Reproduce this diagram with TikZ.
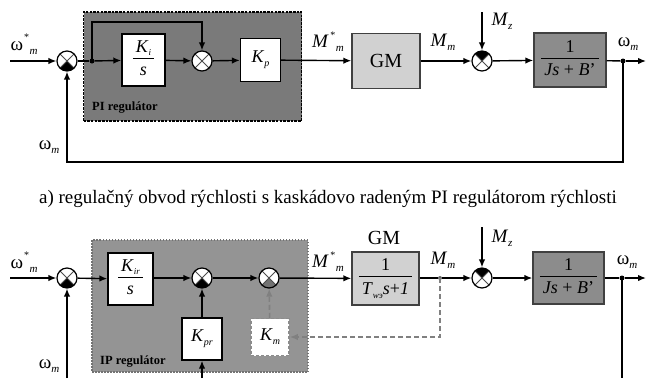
\documentclass[tikz,border=0pt]{standalone}
\usepackage{fontspec}
\setmainfont{Liberation Serif}
\usetikzlibrary{arrows.meta}
\setlength{\arrayrulewidth}{0.9pt}
\newcommand{\frx}[2]{\begin{tabular}{@{\hspace{3pt}}c@{\hspace{3pt}}}#1\\[0pt]\hline\rule{0pt}{17pt}#2\end{tabular}}
\newcommand{\omst}{ω\kern1pt\raisebox{10pt}{\fontsize{10}{10}\selectfont *}\kern0.5pt\raisebox{-4pt}{\fontsize{11}{11}\selectfont\itshape m}}
\newcommand{\omm}{ω\raisebox{-4pt}{\fontsize{11}{11}\selectfont\itshape m}}
\newcommand{\Mst}{\textit{M}\kern1.5pt\raisebox{9pt}{\fontsize{10}{10}\selectfont *}\kern0.5pt\raisebox{-4pt}{\fontsize{11}{11}\selectfont\itshape m}}
\newcommand{\Mm}{\textit{M}\raisebox{-4pt}{\fontsize{11}{11}\selectfont\itshape m}}
\newcommand{\Mz}{\textit{M}\raisebox{-4pt}{\fontsize{11}{11}\selectfont\itshape z}}
\tikzset{
 x=1pt,y=1pt,
 lab/.style={font=\fontsize{19}{19}\selectfont, inner sep=0pt},
 blk/.style={draw, line width=1.4pt, fill=white, inner sep=0pt, font=\fontsize{18}{19}\selectfont},
 ln/.style={line width=1.4pt},
 arr/.style={ln, -{Latex[length=8pt,width=6.5pt]}},
 darr/.style={line width=1.6pt, gray, dash pattern=on 5pt off 3pt, -{Latex[length=8pt,width=6.5pt]}},
 dot/.style={circle, fill, inner sep=0pt, minimum size=5pt},
 pibox/.style={draw=black, fill=black!52, line width=1.8pt, dash pattern=on 2.5pt off 1.2pt, inner sep=0pt},
 ipbox/.style={draw=black!55, fill=black!42, line width=1.4pt, dash pattern=on 1.5pt off 1.5pt, inner sep=0pt},
 sumj/.style 2 args={circle, draw, fill=white, minimum size=20pt, inner sep=0pt, line width=1.2pt,
   path picture={
     \path[fill=#1] (path picture bounding box.center) -- (path picture bounding box.north west) -- (path picture bounding box.north east) -- cycle;
     \path[fill=#2] (path picture bounding box.center) -- (path picture bounding box.south west) -- (path picture bounding box.south east) -- cycle;
     \draw[line width=0.8pt, black!70] (path picture bounding box.north west) -- (path picture bounding box.south east)
       (path picture bounding box.north east) -- (path picture bounding box.south west);
   }},
}
\begin{document}
\begin{tikzpicture}
\useasboundingbox (0,0) rectangle (647,-378);
% ================= top diagram =================
\node[pibox, minimum width=218pt, minimum height=109pt] (pi) at (192.5,-66.5) {};
\node[font=\bfseries\fontsize{12.5}{12.5}\selectfont, anchor=west, inner sep=0pt] (pilab) at (92,-108) {PI regulátor};
\coordinate (in1) at (10,-61);
\node[sumj={white}{black}] (s1) at (67,-61) {};
\node[dot] (j1) at (92,-61) {};
\node[blk, minimum width=43pt, minimum height=52pt] (ki) at (143.5,-60) {\frx{\textit{K}\raisebox{-3pt}{\fontsize{9}{9}\selectfont\itshape i}}{\textit{s}}};
\node[sumj={white}{white}] (s2) at (202,-61) {};
\node[blk, minimum width=40pt, minimum height=43pt] (kp) at (260.5,-60) {\textit{K}\raisebox{-4pt}{\fontsize{10}{10}\selectfont\itshape p}};
\node[lab] (lms1) at (328,-42) {\Mst};
\node[blk, draw=black!75, fill=black!18, minimum width=68pt, minimum height=55pt, font=\fontsize{20}{20}\selectfont] (gm1) at (386,-61) {GM};
\node[lab] (lmm1) at (443,-42) {\Mm};
\node[sumj={black}{white}] (s3) at (482,-61) {};
\coordinate (mz1) at (482,-12);
\node[lab] (lmz1) at (502,-21) {\Mz};
\node[blk, draw=black!75, fill=black!45, minimum width=72pt, minimum height=54pt] (pl1) at (570,-60) {\frx{1}{\textit{Js} + \textit{B}’}};
\node[dot] (o1) at (623,-61) {};
\coordinate (end1) at (646,-61);
\node[lab] (lwo1) at (628,-44) {\omm};
\node[lab] (lwi1) at (24,-44) {\omst};
\node[lab] (lwf1) at (49,-147) {\omm};
\draw[arr] (in1) -- (s1);
\draw[ln] (s1) -- (j1);
\draw[arr] (j1) -- (ki);
\draw[arr] (j1.center) -- (92,-22) -| (s2);
\draw[arr] (ki) -- (s2);
\draw[arr] (s2) -- (kp);
\draw[arr] (kp) -- (gm1);
\draw[arr] (gm1) -- (s3);
\draw[arr] (mz1) -- (s3);
\draw[arr] (s3) -- (pl1);
\draw[ln] (pl1) -- (o1);
\draw[arr] (o1) -- (end1);
\draw[arr] (o1.center) -- (623,-162) -| (s1);
% ================= caption =================
\node[font=\fontsize{19}{19}\selectfont, inner sep=0pt] (cap) at (328,-199) {a) regulačný obvod rýchlosti s kaskádovo radeným PI regulátorom rýchlosti};
% ================= bottom diagram =================
\node[ipbox, minimum width=216pt, minimum height=132pt] (ip) at (200,-306) {};
\node[font=\bfseries\fontsize{12.5}{12.5}\selectfont, anchor=west, inner sep=0pt] (iplab) at (100,-362) {IP regulátor};
\coordinate (in2) at (10,-278);
\node[sumj={white}{black}] (s4) at (67,-278) {};
\coordinate (fb2) at (67,-378);
\node[blk, minimum width=45pt, minimum height=52pt] (kir) at (130.5,-279) {\frx{\textit{K}\raisebox{-3pt}{\fontsize{9}{9}\selectfont\itshape ir}}{\textit{s}}};
\node[sumj={white}{black}] (s5) at (202,-278) {};
\node[sumj={white}{black!55}] (s6) at (269,-278) {};
\node[blk, minimum width=40pt, minimum height=42pt] (kpr) at (202,-339) {\textit{K}\raisebox{-4pt}{\fontsize{10}{10}\selectfont\itshape pr}};
\coordinate (kin) at (202,-378);
\node[blk, draw=black!45, dash pattern=on 3pt off 2pt, line width=1.5pt, minimum width=38pt, minimum height=37pt] (km) at (270,-337) {\textit{K}\raisebox{-4pt}{\fontsize{10}{10}\selectfont\itshape m}};
\node[lab] (lms2) at (328,-262) {\Mst};
\node[lab, font=\fontsize{20}{20}\selectfont] (lgm2) at (384,-238) {GM};
\node[blk, draw=black!75, fill=black!18, minimum width=67pt, minimum height=53pt] (gm2) at (385.5,-278.5) {\frx{1}{\textit{T}\raisebox{-4pt}{\fontsize{9}{9}\selectfont\itshape wэ}\textit{s}+\textit{1}}};
\node[lab] (lmm2) at (443,-260) {\Mm};
\node[circle, fill=black!60, inner sep=0pt, minimum size=4pt] (j2) at (440,-278) {};
\node[sumj={black}{white}] (s7) at (482,-278) {};
\coordinate (mz2) at (482,-227);
\node[lab] (lmz2) at (502,-238) {\Mz};
\node[blk, draw=black!75, fill=black!45, minimum width=71pt, minimum height=52pt] (pl2) at (568.5,-278) {\frx{1}{\textit{Js} + \textit{B}’}};
\node[dot] (o2) at (622,-278) {};
\coordinate (end2) at (646,-278);
\coordinate (fo2) at (622,-378);
\node[lab] (lwo2) at (627,-262) {\omm};
\node[lab] (lwi2) at (24,-262) {\omst};
\node[lab] (lwf2) at (49,-366) {\omm};
\draw[arr] (in2) -- (s4);
\draw[arr] (fb2) -- (s4);
\draw[arr] (s4) -- (kir);
\draw[arr] (kir.east |- s5) -- (s5);
\draw[arr] (s5) -- (s6);
\draw[arr] (kin) -- (kpr);
\draw[arr] (kpr) -- (s5);
\draw[darr] (km) -- (s6);
\draw[arr] (s6) -- (gm2);
\draw[ln] (gm2.east |- j2) -- (j2);
\draw[arr] (j2) -- (s7);
\draw[darr] (j2.center) |- (km);
\draw[arr] (mz2) -- (s7);
\draw[arr] (s7) -- (pl2);
\draw[ln] (pl2) -- (o2);
\draw[arr] (o2) -- (end2);
\draw[ln] (o2.center) -- (fo2);
\end{tikzpicture}
\end{document}
